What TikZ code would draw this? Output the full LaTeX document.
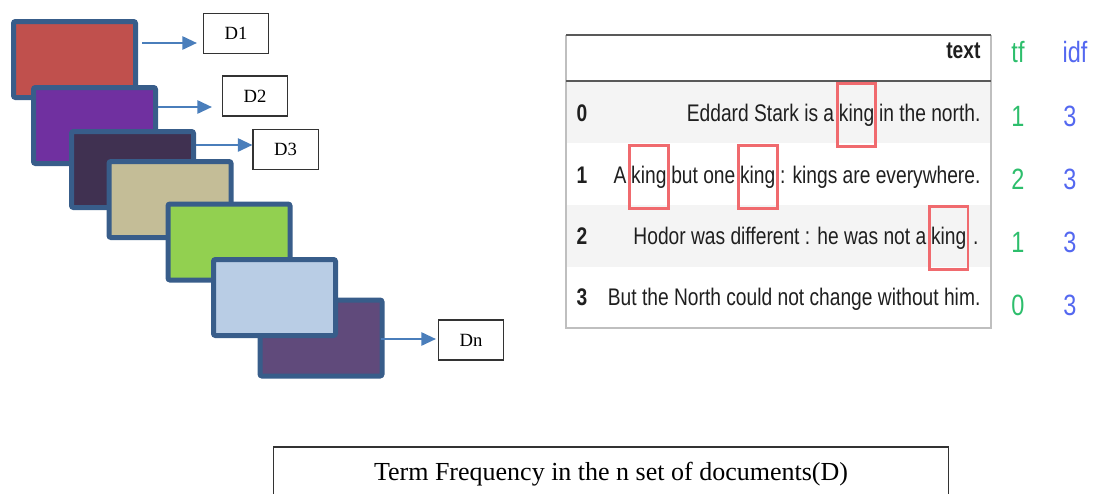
\documentclass[tikz,border=0pt]{standalone}
\usepackage{fontspec}
\setmainfont{Liberation Serif}
\newfontfamily\tblfont[FakeStretch=0.8]{Liberation Sans}
\usepackage{xcolor}
\usetikzlibrary{positioning,arrows.meta}

\definecolor{docedge}{HTML}{385D8A}
\definecolor{linkblue}{HTML}{4A7EBB}
\definecolor{docA}{HTML}{C0504D}
\definecolor{docB}{HTML}{7030A0}
\definecolor{docC}{HTML}{403151}
\definecolor{docD}{HTML}{C4BD97}
\definecolor{docE}{HTML}{92D050}
\definecolor{docF}{HTML}{B9CDE5}
\definecolor{docG}{HTML}{604A7B}
\definecolor{kingred}{HTML}{F06A6E}
\definecolor{tfgreen}{HTML}{2DBE6C}
\definecolor{idfblue}{HTML}{5468F0}
\definecolor{rowgray}{HTML}{F4F4F4}

\begin{document}
\begin{tikzpicture}[
          x=0.75pt, y=-0.75pt,
          doc/.style={draw=docedge, line width=3.75pt, rounded corners=1.5pt,
                      minimum width=91.5pt, minimum height=57pt, inner sep=0pt},
          tag/.style={draw=black!80, line width=0.8pt, minimum width=48.8pt,
                      minimum height=30pt, inner sep=0pt, font=\fontsize{14}{16}\selectfont},
          link/.style={draw=linkblue, line width=1.5pt, -{Triangle[length=11pt,width=10pt]}},
          cell/.style={font=\tblfont\fontsize{18}{20}\selectfont, text=black!88,
                       text height=13pt, text depth=4pt, inner xsep=1pt, inner ysep=0pt},
          king/.style={cell, draw=kingred, line width=2.2pt, inner xsep=1.3pt, inner ysep=15pt},
          idx/.style={cell, font=\tblfont\bfseries\fontsize{18}{20}\selectfont},
          score/.style={font=\tblfont\fontsize{22}{24}\selectfont, inner sep=0pt}
      ]
        \useasboundingbox (0,0) rectangle (1096,493);
        \node[doc, fill=docA] (doc1) at (74.5,59.5) {};
        \node[doc, fill=docB] (doc2) at (94.5,125.5) {};
        \node[doc, fill=docC] (doc3) at (132.5,169.5) {};
        \node[doc, fill=docD] (doc4) at (170,199.5) {};
        \node[doc, fill=docE] (doc5) at (229,242) {};
        \node[doc, fill=docG] (doc7) at (321,338) {};
        \node[doc, fill=docF] (doc6) at (274.5,297.5) {};
        \node[tag] (d1) at (236,33.5) {D1};
        \node[tag] (d2) at (255,96) {D2};
        \node[tag] (d3) at (285.5,149.5) {D3};
        \node[tag] (dn) at (471,340) {Dn};
        \coordinate (a1) at (0,43);
        \coordinate (a2) at (0,107);
        \coordinate (a3) at (0,145);
        \coordinate (an) at (0,339);
        \draw[link, shorten <=3pt, shorten >=4.5pt] (doc1.east |- a1) -- (d1.west |- a1);
        \draw[link, shorten >=7.5pt] (doc2.east |- a2) -- (d2.west |- a2);
        \draw[link] (doc3.east |- a3) -- (d3.west |- a3);
        \draw[link, shorten >=1.5pt] ([xshift=-3pt]doc7.east |- an) -- (dn.west |- an);
        \fill[rowgray] (566,81) rectangle (991,143);
        \fill[rowgray] (566,205) rectangle (991,267);
        \draw[black!25, line width=0.9pt] (566,35) -- (566,328) -- (991,328) -- (991,35);
        \draw[black!65, line width=1.5pt] (566,35) -- (991,35);
        \draw[black!65, line width=1.8pt] (566,81) -- (991,81);
        \node[idx, anchor=east] (hdr) at (982,52) {text};
        \node[idx] (i0) at (582,115) {0};
        \node[idx] (i1) at (582,177) {1};
        \node[idx] (i2) at (582,238) {2};
        \node[idx] (i3) at (582,299) {3};
        \node[cell, anchor=east] (r0c) at (982,115) {in the north.};
        \node[king, left=0pt of r0c] (r0k) {king};
        \node[cell, left=0pt of r0k] (r0a) {Eddard Stark is a};
        \node[cell, anchor=east] (r1e) at (982,177) {: kings are everywhere.};
        \node[king, left=0pt of r1e] (r1k2) {king};
        \node[cell, left=0pt of r1k2] (r1d) {but one};
        \node[king, left=0pt of r1d] (r1k1) {king};
        \node[cell, left=0pt of r1k1] (r1a) {A};
        \node[cell, anchor=east, inner xsep=2.5pt] (r2c) at (982,238) {.};
        \node[king, left=0pt of r2c] (r2k) {king};
        \node[cell, left=0pt of r2k] (r2a) {Hodor was different : he was not a};
        \node[cell, anchor=east] (r3a) at (982,299) {But the North could not change without him.};
        \node[score, text=tfgreen] (tfh) at (1018,52) {tf};
        \node[score, text=idfblue] (idfh) at (1075,52) {idf};
        \foreach \v [count=\i from 0] in {1,2,1,0}
          \node[score, text=tfgreen] (tf\i) at (1018,116+63*\i) {\v};
        \foreach \i in {0,...,3}
          \node[score, text=idfblue] (idf\i) at (1070,116+63*\i) {3};
        \node[draw=black!80, line width=0.9pt, minimum width=506pt, minimum height=40.5pt,
              font=\fontsize{19.5}{22}\selectfont] (cap) at (611,474)
              {Term Frequency in the n set of documents(D)};
      \end{tikzpicture}
\end{document}
